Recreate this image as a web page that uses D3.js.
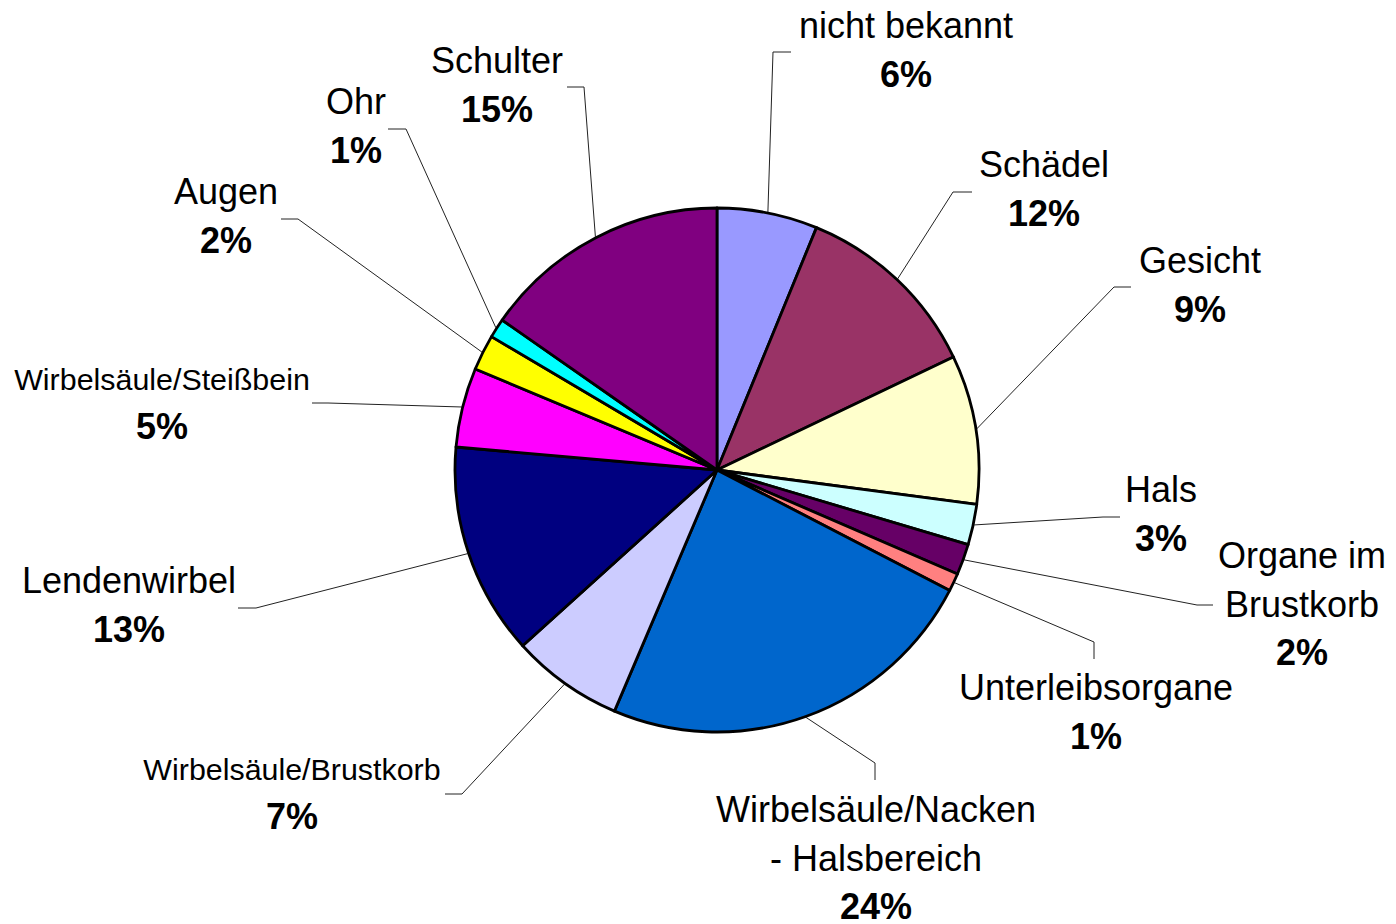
<!DOCTYPE html>
<html>
<head>
<meta charset="utf-8">
<script src="https://cdnjs.cloudflare.com/ajax/libs/d3/7.8.5/d3.min.js"></script>
<style>
  html, body { margin: 0; padding: 0; background: #fff; }
  text { font-family: "Liberation Sans", Arial, sans-serif; fill: #000; }
</style>
</head>
<body>
<div id="chart"></div>
<script>
// Verletzungen nach Körperregion (Anteile in %)
var categories = ["nicht bekannt", "Schädel", "Gesicht", "Hals", "Organe im Brustkorb",
    "Unterleibsorgane", "Wirbelsäule/Nacken - Halsbereich", "Wirbelsäule/Brustkorb",
    "Lendenwirbel", "Wirbelsäule/Steißbein", "Augen", "Ohr", "Schulter"];
var values = [6.2, 11.7, 9.2, 2.5, 1.9, 1.1, 23.8, 6.9, 13.1, 4.9, 2.2, 1.2, 15.3];
var colors = ["#9999ff", "#993366", "#ffffcc", "#ccffff", "#660066", "#ff8080", "#0066cc",
    "#ccccff", "#000080", "#ff00ff", "#ffff00", "#00ffff", "#800080"];
// how the category names wrap in the chart
var labelLines = [["nicht bekannt"], ["Schädel"], ["Gesicht"], ["Hals"], ["Organe im", "Brustkorb"],
    ["Unterleibsorgane"], ["Wirbelsäule/Nacken", "- Halsbereich"], ["Wirbelsäule/Brustkorb"],
    ["Lendenwirbel"], ["Wirbelsäule/Steißbein"], ["Augen"], ["Ohr"], ["Schulter"]];

// label layout: text center x, first baseline, leader elbow, leader end, name font size
var labelPos = [
    [906, 38, 773, 52, 791, 52, 36],
    [1044, 177, 953, 192, 972, 192, 36],
    [1200, 273, 1114, 287, 1131, 287, 36],
    [1161, 502, 1103, 517, 1120, 517, 36],
    [1302, 568, 1197, 605, 1213, 605, 36],
    [1096, 700, 1094, 642, 1094, 659, 36],
    [876, 822, 875, 763, 875, 780, 36],
    [292, 780, 462, 794, 445, 794, 30.4],
    [129, 593, 256, 608, 238, 608, 36],
    [162, 390, 328, 403, 312, 403, 30.4],
    [226, 204, 298, 219, 281, 219, 36],
    [356, 114, 406, 129, 388, 129, 36],
    [497, 73, 584, 87, 567, 87, 36]
];

var width = 1396, height = 924;
var cx = 717, cy = 470, radius = 262;
var lineGap = 48.5;

var data = categories.map(function(c, i) {
    return {name: c, value: values[i], color: colors[i], lines: labelLines[i], pos: labelPos[i]};
});
var total = d3.sum(values);

var svg = d3.select("#chart").append("svg")
    .attr("width", width)
    .attr("height", height);

var pie = d3.pie().sort(null).value(function(d) { return d.value; });
var arcs = pie(data);

var arc = d3.arc().innerRadius(0).outerRadius(radius);
var edge = d3.arc().innerRadius(radius + 1).outerRadius(radius + 1);

// leader lines first, so the pie outline sits on top
svg.append("g").selectAll("polyline")
    .data(arcs)
  .enter().append("polyline")
    .attr("fill", "none")
    .attr("stroke", "#222")
    .attr("stroke-width", 1)
    .attr("points", function(d) {
        var p = edge.centroid(d);
        var l = d.data.pos;
        return [[cx + p[0], cy + p[1]], [l[2], l[3]], [l[4], l[5]]].join(" ");
    });

svg.append("g")
    .attr("transform", "translate(" + cx + "," + cy + ")")
  .selectAll("path")
    .data(arcs)
  .enter().append("path")
    .attr("d", arc)
    .attr("fill", function(d) { return d.data.color; })
    .attr("stroke", "#000")
    .attr("stroke-width", 2.8)
    .attr("stroke-linejoin", "round");

var label = svg.append("g").selectAll("g")
    .data(arcs)
  .enter().append("g");

label.each(function(d) {
    var g = d3.select(this), l = d.data.pos;
    d.data.lines.forEach(function(t, k) {
        g.append("text")
            .attr("x", l[0])
            .attr("y", l[1] + k * lineGap)
            .attr("text-anchor", "middle")
            .style("font-size", l[6] + "px")
            .text(t);
    });
    g.append("text")
        .attr("x", l[0])
        .attr("y", l[1] + d.data.lines.length * lineGap)
        .attr("text-anchor", "middle")
        .style("font-size", "36px")
        .style("font-weight", "bold")
        .text(Math.round(d.data.value / total * 100) + "%");
});
</script>
</body>
</html>
